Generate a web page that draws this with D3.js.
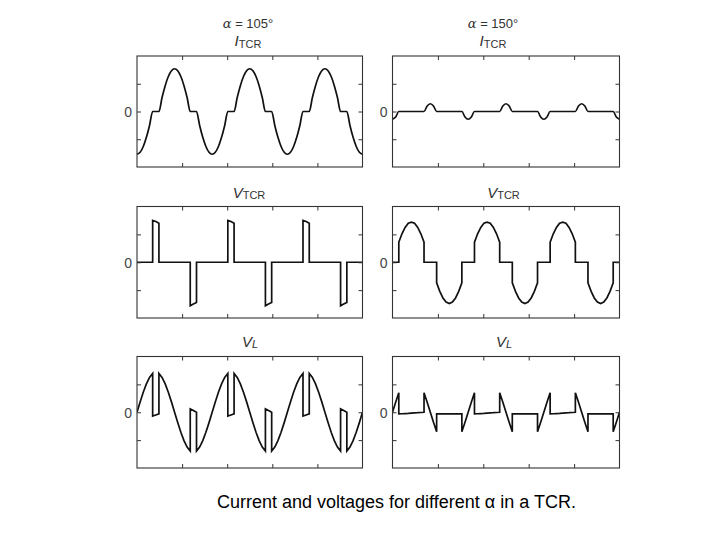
<!DOCTYPE html>
<html>
<head>
<meta charset="utf-8">
<script src="https://cdn.jsdelivr.net/npm/d3@7"></script>
<style>
  html, body { margin: 0; padding: 0; background: #fff; }
  svg { display: block; }
</style>
</head>
<body>
<div id="chart"></div>
<script>
// ---------------- DATA ----------------
// Angle axis: 3 supply cycles, one sample every 15 degrees (0..1080).
const sampleStepDeg = 15;
const angleSpanDeg = 1080;
const xTickAngles = [216, 432, 648, 864];
const yTickValues = [-0.5, 0, 0.5];
const yTickLabels = ["", "0", ""];

const firingAngles = ["105°", "150°"];
const signalTitles = [["I", "TCR"], ["V", "TCR"], ["V", "L"]];
const captionText = "Current and voltages for different α in a TCR.";

// values per 15° sample; an entry [a, b] is a vertical jump from a to b at that angle
const iTcr105 = [
  -0.77,-0.735,-0.631,-0.466,-0.251,0,0,0,0.251,0.466,0.631,0.735,0.77,0.735,0.631,0.466,0.251,0,0,0,-0.251,-0.466,-0.631,-0.735,
  -0.77,-0.735,-0.631,-0.466,-0.251,0,0,0,0.251,0.466,0.631,0.735,0.77,0.735,0.631,0.466,0.251,0,0,0,-0.251,-0.466,-0.631,-0.735,
  -0.77,-0.735,-0.631,-0.466,-0.251,0,0,0,0.251,0.466,0.631,0.735,0.77,0.735,0.631,0.466,0.251,0,0,0,-0.251,-0.466,-0.631,-0.735,
  -0.77
];
const vTcr105 = [
  0,0,0,0,0,[0,0.75],0.73,[0.70,0],0,0,0,0,0,0,0,0,0,[0,-0.78],-0.75,[-0.72,0],0,0,0,0,
  0,0,0,0,0,[0,0.75],0.73,[0.70,0],0,0,0,0,0,0,0,0,0,[0,-0.78],-0.75,[-0.72,0],0,0,0,0,
  0,0,0,0,0,[0,0.75],0.73,[0.70,0],0,0,0,0,0,0,0,0,0,[0,-0.78],-0.75,[-0.72,0],0,0,0,0,
  0
];
const vL105 = [
  0,0.186,0.36,0.509,0.624,[0.695,-0.07],-0.05,[-0.03,0.695],0.624,0.509,0.36,0.186,0,-0.186,-0.36,-0.509,-0.624,[-0.695,0.06],0.03,[0,-0.695],-0.624,-0.509,-0.36,-0.186,
  0,0.186,0.36,0.509,0.624,[0.695,-0.07],-0.05,[-0.03,0.695],0.624,0.509,0.36,0.186,0,-0.186,-0.36,-0.509,-0.624,[-0.695,0.06],0.03,[0,-0.695],-0.624,-0.509,-0.36,-0.186,
  0,0.186,0.36,0.509,0.624,[0.695,-0.07],-0.05,[-0.03,0.695],0.624,0.509,0.36,0.186,0,-0.186,-0.36,-0.509,-0.624,[-0.695,0.06],0.03,[0,-0.695],-0.624,-0.509,-0.36,-0.186,
  0
];
const iTcr150 = [
  -0.14,-0.10,0,0,0,0,0,0,0,0,0,0.10,0.14,0.10,0,0,0,0,0,0,0,0,0,-0.10,
  -0.14,-0.10,0,0,0,0,0,0,0,0,0,0.10,0.14,0.10,0,0,0,0,0,0,0,0,0,-0.10,
  -0.14,-0.10,0,0,0,0,0,0,0,0,0,0.10,0.14,0.10,0,0,0,0,0,0,0,0,0,-0.10,
  -0.14
];
const vTcr150 = [
  0,0,[0,0.36],0.51,0.625,0.70,0.72,0.70,0.625,0.51,[0.36,0],0,0,0,[0,-0.37],-0.523,-0.64,-0.715,-0.74,-0.715,-0.64,-0.523,[-0.37,0],0,
  0,0,[0,0.36],0.51,0.625,0.70,0.72,0.70,0.625,0.51,[0.36,0],0,0,0,[0,-0.37],-0.523,-0.64,-0.715,-0.74,-0.715,-0.64,-0.523,[-0.37,0],0,
  0,0,[0,0.36],0.51,0.625,0.70,0.72,0.70,0.625,0.51,[0.36,0],0,0,0,[0,-0.37],-0.523,-0.64,-0.715,-0.74,-0.715,-0.64,-0.523,[-0.37,0],0,
  0
];
const vL150 = [
  0,0.18,[0.35,-0.03],-0.027,-0.023,-0.02,-0.015,-0.01,-0.008,-0.004,[0,0.35],0.18,0,-0.18,[-0.35,-0.03],-0.03,-0.03,-0.03,-0.03,-0.03,-0.03,-0.03,[-0.03,-0.35],-0.18,
  0,0.18,[0.35,-0.03],-0.027,-0.023,-0.02,-0.015,-0.01,-0.008,-0.004,[0,0.35],0.18,0,-0.18,[-0.35,-0.03],-0.03,-0.03,-0.03,-0.03,-0.03,-0.03,-0.03,[-0.03,-0.35],-0.18,
  0,0.18,[0.35,-0.03],-0.027,-0.023,-0.02,-0.015,-0.01,-0.008,-0.004,[0,0.35],0.18,0,-0.18,[-0.35,-0.03],-0.03,-0.03,-0.03,-0.03,-0.03,-0.03,-0.03,[-0.03,-0.35],-0.18,
  0
];

// ---------------- LAYOUT ----------------
const W = 720, H = 540;
const colRange = [[137, 362.5], [392.5, 619.5]];
const rowRange = [[56, 167], [206.5, 318], [356.5, 468]];
const titleX = [[248, 249, 250], [493, 503.5, 504]];
const titleBase = [46, 197.5, 346.5];
const panels = [
  { col: 0, row: 0, data: iTcr105, smooth: true },
  { col: 0, row: 1, data: vTcr105, smooth: false },
  { col: 0, row: 2, data: vL105, smooth: false },
  { col: 1, row: 0, data: iTcr150, smooth: true },
  { col: 1, row: 1, data: vTcr150, smooth: false },
  { col: 1, row: 2, data: vL150, smooth: false }
];

const svg = d3.select("#chart").append("svg")
  .attr("width", W).attr("height", H)
  .style("font-family", "'Liberation Sans', Arial, sans-serif");

svg.append("rect").attr("width", W).attr("height", H).attr("fill", "#fff");

const axisColor = "#333";
const tickLen = 4;

panels.forEach((p, k) => {
  const x = d3.scaleLinear().domain([0, angleSpanDeg]).range(colRange[p.col]);
  const y = d3.scaleLinear().domain([-1, 1]).range([rowRange[p.row][1], rowRange[p.row][0]]);
  const g = svg.append("g");

  const clipId = "clip" + k;
  svg.append("clipPath").attr("id", clipId).append("rect")
    .attr("x", x.range()[0]).attr("y", y.range()[1])
    .attr("width", x.range()[1] - x.range()[0]).attr("height", y.range()[0] - y.range()[1]);

  // expand samples to points (jumps become two points at the same angle)
  const pts = [];
  p.data.forEach((v, i) => {
    const a = i * sampleStepDeg;
    if (Array.isArray(v)) { pts.push([a, v[0]]); pts.push([a, v[1]]); }
    else pts.push([a, v]);
  });

  const line = d3.line()
    .x(d => x(d[0])).y(d => y(d[1]))
    .curve(p.smooth ? d3.curveMonotoneX : d3.curveLinear);

  g.append("path").datum(pts)
    .attr("clip-path", `url(#${clipId})`)
    .attr("d", line)
    .attr("fill", "none").attr("stroke", "#111")
    .attr("stroke-width", 1.7).attr("stroke-linejoin", "miter");

  // axes with inward ticks on all four sides
  const axL = d3.axisLeft(y).tickValues(yTickValues).tickSizeInner(-tickLen).tickSizeOuter(0).tickFormat("");
  const axR = d3.axisRight(y).tickValues(yTickValues).tickSizeInner(-tickLen).tickSizeOuter(0).tickFormat("");
  const axT = d3.axisTop(x).tickValues(xTickAngles).tickSizeInner(-tickLen).tickSizeOuter(0).tickFormat("");
  const axB = d3.axisBottom(x).tickValues(xTickAngles).tickSizeInner(-tickLen).tickSizeOuter(0).tickFormat("");
  const styleAxis = sel => { sel.selectAll("path").remove(); sel.selectAll("line").attr("stroke", axisColor).attr("stroke-width", 1); };
  g.append("g").attr("transform", `translate(${x.range()[0]},0)`).call(axL).call(styleAxis);
  g.append("g").attr("transform", `translate(${x.range()[1]},0)`).call(axR).call(styleAxis);
  g.append("g").attr("transform", `translate(0,${y.range()[1]})`).call(axT).call(styleAxis);
  g.append("g").attr("transform", `translate(0,${y.range()[0]})`).call(axB).call(styleAxis);

  // frame
  g.append("rect")
    .attr("x", x.range()[0]).attr("y", y.range()[1])
    .attr("width", x.range()[1] - x.range()[0]).attr("height", y.range()[0] - y.range()[1])
    .attr("fill", "none").attr("stroke", axisColor).attr("stroke-width", 1.1);

  // "0" label
  yTickValues.forEach((t, i) => {
    if (!yTickLabels[i]) return;
    g.append("text").attr("x", x.range()[0] - 5).attr("y", y(t) + 5.5)
      .attr("text-anchor", "end").attr("font-size", 14).attr("fill", "#444")
      .text(yTickLabels[i]);
  });

  // signal title
  const tx = titleX[p.col][p.row];
  const tt = g.append("text").attr("x", tx).attr("y", titleBase[p.row]).attr("text-anchor", "middle").attr("fill", "#333");
  const [mainSym, subSym] = signalTitles[p.row];
  tt.append("tspan").attr("font-size", 15).attr("font-style", "italic").text(mainSym);
  tt.append("tspan").attr("font-size", 11).attr("dy", 1.5)
    .attr("font-style", subSym === "L" ? "italic" : "normal").text(subSym);

  // alpha header
  if (p.row === 0) {
    const at = g.append("text").attr("x", tx).attr("y", 28).attr("text-anchor", "middle")
      .attr("fill", "#333").attr("font-size", 13);
    at.append("tspan").attr("font-family", "'DejaVu Serif', serif").attr("font-style", "italic").text("α");
    at.append("tspan").text(" = " + firingAngles[p.col]);
  }
});

svg.append("text").attr("x", 217).attr("y", 508)
  .attr("font-size", 18).attr("fill", "#000")
  .text(captionText);
</script>
</body>
</html>
